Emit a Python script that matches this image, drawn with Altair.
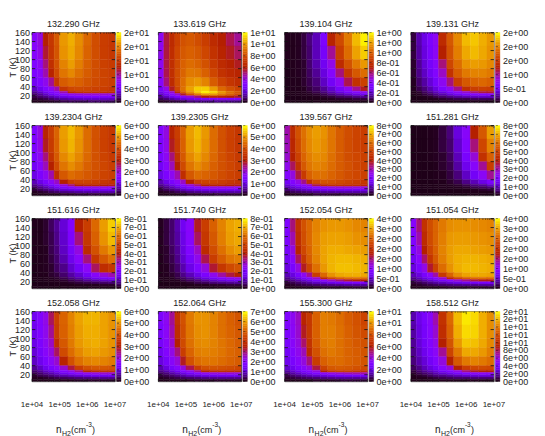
import math
import altair as alt
import pandas as pd

FONT = "Liberation Sans"
TXT = "#222222"
FS = 9

TITLES = ["132.290 GHz","133.619 GHz","139.104 GHz","139.131 GHz",
          "139.2304 GHz","139.2305 GHz","139.567 GHz","151.281 GHz",
          "151.616 GHz","151.740 GHz","152.054 GHz","151.054 GHz",
          "152.058 GHz","152.064 GHz","155.300 GHz","158.512 GHz"]
STEPS = [5,2,0.2,0.5, 1,1,1,1, 0.1,0.1,0.5,0.5, 1,1,2,2]
CB_LABELS = [
 ["0e+00","5e+00","1e+01","2e+01","2e+01","2e+01"],
 ["0e+00","2e+00","4e+00","6e+00","8e+00","1e+01","1e+01"],
 ["0e+00","2e-01","4e-01","6e-01","8e-01","1e+00","1e+00","1e+00"],
 ["0e+00","5e-01","1e+00","2e+00","2e+00","2e+00"],
 ["0e+00","1e+00","2e+00","3e+00","4e+00","5e+00","6e+00"],
 ["0e+00","1e+00","2e+00","3e+00","4e+00","5e+00","6e+00"],
 ["0e+00","1e+00","2e+00","3e+00","4e+00","5e+00","6e+00","7e+00","8e+00"],
 ["0e+00","1e+00","2e+00","3e+00","4e+00","5e+00","6e+00","7e+00","8e+00"],
 ["0e+00","1e-01","2e-01","3e-01","4e-01","5e-01","6e-01","7e-01","8e-01"],
 ["0e+00","1e-01","2e-01","3e-01","4e-01","5e-01","6e-01","7e-01","8e-01"],
 ["0e+00","5e-01","1e+00","2e+00","2e+00","2e+00","3e+00","4e+00"],
 ["0e+00","5e-01","1e+00","2e+00","2e+00","2e+00","3e+00","4e+00"],
 ["0e+00","1e+00","2e+00","3e+00","4e+00","5e+00","6e+00"],
 ["0e+00","1e+00","2e+00","3e+00","4e+00","5e+00","6e+00","7e+00"],
 ["0e+00","2e+00","4e+00","6e+00","8e+00","1e+01","1e+01"],
 ["0e+00","2e+00","4e+00","6e+00","8e+00","1e+01","1e+01","1e+01","2e+01","2e+01"],
]
# cell edges
LOGN_EDGES = [4,4.2,4.4,4.6,4.8,5,5.3,5.55,5.85,6.15,6.45,6.75,7]
T_EDGES = [160,130,100,80,60,40,30,25,20,15,10,5]

# Cell levels, percent of the colour bar; rows from T=160 down, columns from n=1e4 up
P01=[[28,33,50,60,70,84,88,82,74,67,62,60],[27,32,47,59,69,83,87,81,73,67,62,60],[25,30,42,57,68,80,85,79,72,67,63,61],[24,28,38,52,66,77,81,76,71,67,64,62],[20,25,31,40,60,71,74,72,69,66,64,62],[14,19,25,30,38,60,65,66,65,63,62,60],[10,14,19,24,29,38,53,57,58,57,56,55],[7,10,14,19,23,27,31,33,34,34,34,33],[5,7,9,12,15,18,21,23,24,24,24,24],[3,4,5,7,9,11,13,14,15,15,15,14],[1,1,2,3,4,5,6,6,7,7,7,7]]
P02=[[30,46,55,63,68,70,67,62,55,50,45,40],[30,46,56,65,70,72,70,65,58,52,48,44],[30,46,57,66,72,75,73,68,61,55,51,48],[29,45,57,67,73,78,77,72,65,58,54,52],[27,42,55,67,75,82,84,80,71,64,59,56],[22,32,48,65,76,86,93,93,85,74,68,64],[18,26,35,55,70,82,92,98,94,84,76,70],[14,20,27,35,48,68,78,84,84,78,72,66],[10,14,19,24,28,34,42,50,54,53,50,47],[6,8,11,14,17,20,23,25,27,27,26,25],[2,3,4,5,6,8,9,10,10,10,10,10]]
P03=[[1,1,2,4,8,13,24,52,66,78,90,98],[1,1,2,4,7,13,22,40,62,75,86,93],[1,1,2,3,7,12,20,32,55,68,78,84],[0,1,2,3,6,10,17,27,42,60,70,75],[0,1,1,3,5,8,14,21,30,45,58,63],[0,1,1,2,4,6,10,15,22,30,40,48],[0,0,1,2,3,5,8,12,17,22,27,30],[0,0,1,1,2,3,5,8,11,14,17,19],[0,0,0,1,1,2,3,4,6,7,9,10],[0,0,0,0,1,1,1,2,3,3,4,4],[0,0,0,0,0,0,0,1,1,1,1,1]]
P04=[[4,12,18,24,30,55,70,81,90,92,88,84],[4,11,17,23,29,50,68,79,87,90,87,83],[3,10,16,22,28,42,65,75,83,85,84,81],[3,9,14,20,26,36,58,71,78,80,80,78],[2,7,11,16,22,30,42,62,70,73,74,72],[2,5,8,12,17,24,31,41,57,62,63,62],[1,3,6,9,13,17,23,29,35,42,46,47],[1,2,4,6,9,12,16,20,23,25,26,27],[0,1,2,3,5,7,9,11,13,14,15,15],[0,0,1,1,2,3,4,5,5,6,6,6],[0,0,0,0,0,1,1,1,1,1,1,1]]
P05=[[25,33,52,62,73,85,90,84,75,68,63,60],[24,32,48,61,72,84,89,83,75,68,63,60],[23,30,42,58,70,81,86,81,74,68,64,61],[21,28,37,50,66,77,82,78,72,68,65,62],[18,24,30,38,56,70,75,73,70,67,64,62],[13,18,23,29,36,50,62,64,64,62,60,58],[9,13,17,22,27,34,42,50,52,52,50,49],[6,9,12,16,20,24,28,31,32,32,32,31],[4,6,8,10,13,16,18,20,21,21,21,21],[2,3,4,6,7,9,10,11,12,12,12,12],[0,1,1,2,2,3,3,4,4,4,4,4]]
P06=[[25,33,52,62,73,85,90,84,75,68,63,60],[24,32,48,61,72,84,89,83,75,68,63,60],[23,30,42,58,70,81,86,81,74,68,64,61],[21,28,37,50,66,77,82,78,72,68,65,62],[18,24,30,38,56,70,75,73,70,67,64,62],[13,18,23,29,36,50,62,64,64,62,60,58],[9,13,17,22,27,34,42,50,52,52,50,49],[6,9,12,16,20,24,28,31,32,32,32,31],[4,6,8,10,13,16,18,20,21,21,21,21],[2,3,4,6,7,9,10,11,12,12,12,12],[0,1,1,2,2,3,3,4,4,4,4,4]]
P07=[[38,55,68,76,82,85,83,77,71,67,64,62],[37,53,66,75,81,84,82,77,71,67,64,62],[35,50,63,73,79,82,81,76,71,67,65,63],[31,44,58,70,77,80,79,75,71,68,65,63],[26,33,46,61,72,76,76,73,70,67,65,63],[21,26,32,41,57,66,69,68,66,64,62,60],[16,20,25,29,34,46,56,58,58,57,56,54],[12,15,18,21,24,27,30,33,34,34,33,33],[8,10,12,14,16,18,20,21,21,21,21,21],[4,6,7,8,9,10,11,11,12,12,12,12],[1,2,2,3,3,4,4,4,4,4,4,4]]
P08=[[0,0,0,1,2,4,8,17,28,50,70,85],[0,0,0,1,2,4,7,15,26,42,65,80],[0,0,0,1,2,3,6,13,23,34,58,72],[0,0,0,0,1,3,5,11,19,28,40,62],[0,0,0,0,1,2,4,8,14,21,29,40],[0,0,0,0,1,1,3,5,9,13,18,24],[0,0,0,0,0,1,2,3,5,8,10,14],[0,0,0,0,0,1,1,2,3,5,6,8],[0,0,0,0,0,0,1,1,1,2,3,4],[0,0,0,0,0,0,0,0,1,1,1,1],[0,0,0,0,0,0,0,0,0,0,0,0]]
P09=[[1,1,3,6,10,16,26,50,62,74,85,93],[1,1,3,5,9,15,24,42,60,72,83,90],[1,1,2,5,8,14,22,33,55,68,78,84],[0,1,2,4,7,12,19,28,42,60,70,76],[0,1,2,3,6,9,15,21,29,44,56,60],[0,1,1,3,4,7,11,15,21,28,34,38],[0,0,1,2,3,5,8,11,15,19,22,24],[0,0,1,1,2,3,5,7,10,12,14,15],[0,0,0,1,1,2,3,4,5,6,7,8],[0,0,0,0,1,1,1,2,2,2,3,3],[0,0,0,0,0,0,0,1,1,1,1,1]]
P10=[[2,4,7,12,20,28,48,62,72,80,86,88],[2,4,7,11,18,27,44,60,70,79,85,87],[2,3,6,10,17,25,36,55,67,76,82,85],[1,3,5,9,15,22,31,45,62,71,77,79],[1,2,4,7,12,18,25,33,47,60,66,69],[1,2,3,5,9,13,18,24,31,39,46,50],[1,1,2,4,6,9,13,17,21,26,30,32],[0,1,1,2,4,6,8,11,14,17,19,20],[0,0,1,1,2,3,5,6,8,9,10,11],[0,0,0,1,1,1,2,2,3,3,4,4],[0,0,0,0,0,0,0,1,1,1,1,1]]
P11=[[25,42,58,68,74,80,83,84,84,83,81,80],[24,38,56,67,74,81,85,86,86,85,83,82],[22,33,52,65,73,81,86,88,88,87,86,85],[20,28,44,60,71,80,86,89,90,90,89,88],[17,23,33,48,64,76,84,89,91,91,90,89],[13,17,23,30,40,62,74,83,87,88,88,87],[9,13,17,22,27,36,55,66,72,75,76,75],[7,9,12,15,18,23,28,36,42,47,50,50],[4,5,7,9,11,14,16,19,21,23,24,25],[2,3,4,5,6,7,8,9,10,11,11,11],[1,1,1,2,2,2,3,3,3,3,4,4]]
P12=[[27,42,58,67,73,78,82,83,83,82,81,80],[25,38,55,66,73,79,84,85,85,84,83,82],[23,33,50,64,72,80,85,87,87,86,85,84],[20,28,43,59,70,79,85,88,89,89,88,87],[17,23,32,47,63,75,83,88,90,90,89,88],[13,17,23,29,39,61,73,82,86,87,87,86],[9,13,17,21,26,35,54,65,71,74,75,74],[7,9,12,15,18,22,27,35,41,46,49,49],[4,5,7,9,11,13,16,18,20,22,23,24],[2,3,4,5,6,7,8,9,10,10,11,11],[1,1,1,2,2,2,3,3,3,3,3,4]]
P13=[[20,26,32,44,63,73,80,86,89,89,86,83],[19,25,31,40,62,72,79,85,88,88,86,83],[18,24,30,36,56,70,78,84,87,88,86,83],[16,22,28,33,44,66,75,81,85,86,84,82],[14,19,24,29,35,52,68,76,80,81,80,78],[10,14,19,23,28,35,46,62,68,70,70,69],[7,10,14,17,21,26,32,40,52,56,58,58],[5,7,10,12,15,19,23,27,31,33,35,35],[3,5,6,8,10,12,14,16,18,20,20,21],[2,2,3,4,5,6,7,8,9,9,10,10],[0,1,1,1,2,2,2,3,3,3,3,3]]
P14=[[24,30,40,58,68,78,83,83,80,76,72,69],[23,29,38,56,67,77,82,83,80,76,73,70],[22,28,35,50,66,76,81,82,80,77,74,71],[20,26,32,42,62,73,79,80,79,77,74,72],[17,22,28,34,48,68,75,77,77,75,73,71],[12,17,22,27,33,45,62,68,69,68,67,65],[9,12,16,20,25,31,40,52,56,57,56,55],[6,8,11,14,17,21,26,30,33,34,34,34],[4,5,7,9,11,14,16,18,19,20,20,20],[2,3,4,5,6,7,8,9,10,10,10,10],[0,1,1,2,2,2,3,3,3,3,3,3]]
P15=[[25,30,36,52,60,72,79,78,75,71,68,64],[24,29,35,48,60,72,79,79,76,72,69,66],[23,28,33,43,58,71,78,79,76,73,70,68],[21,26,31,37,54,68,76,78,76,73,71,69],[19,23,28,33,42,62,72,75,75,73,71,69],[15,19,24,28,33,46,64,70,71,70,68,66],[11,15,19,23,27,33,50,60,62,62,60,58],[8,11,14,17,20,24,28,32,35,37,38,38],[5,7,9,11,13,15,17,19,21,22,22,22],[3,4,5,6,7,8,9,10,11,11,11,11],[1,1,2,2,2,3,3,3,4,4,4,4]]
P16=[[12,18,23,28,38,58,74,90,97,95,88,82],[11,17,22,27,35,56,72,88,95,94,88,82],[10,16,21,26,32,50,69,84,92,91,87,81],[9,14,19,24,29,40,64,78,87,87,84,79],[8,12,16,21,26,33,50,70,78,80,78,75],[6,9,13,17,21,27,34,50,62,65,66,65],[4,7,10,13,16,21,26,32,42,48,50,50],[3,5,7,9,12,15,18,22,25,28,29,30],[2,3,4,6,8,9,11,13,15,16,17,17],[1,2,2,3,4,5,6,7,7,8,8,8],[0,0,1,1,1,2,2,2,2,2,2,2]]
GRIDS = [P01,P02,P03,P04,P05,P06,P07,P08,P09,P10,P11,P12,P13,P14,P15,P16]

X_MAJOR = [4,5,6,7]
X_LABELS = ["1e+04","1e+05","1e+06","1e+07"]
X_MINOR = [d + math.log10(m) for d in (4,5,6) for m in range(2,10)]
Y_TICKS = [20,40,60,80,100,120,140,160]
XMIN, XMAX, YMIN, YMAX = 4, 7, 5, 160
W, H = 83, 70
CB_BANDS = 40

def palette(n=48):
    out = []
    for i in range(n + 1):
        t = i / n
        r = math.sqrt(t); g = t ** 3; b = max(0.0, math.sin(2 * math.pi * t))
        out.append("#%02x%02x%02x" % (round(r*255), round(g*255), round(b*255)))
    return out
PAL = palette()

XS = alt.Scale(domain=[XMIN, XMAX], nice=False, zero=False)
YS = alt.Scale(domain=[YMIN, YMAX], nice=False, zero=False)

def xq(f="a"): return alt.X(f + ":Q", scale=XS, axis=None)
def yq(f="b"): return alt.Y(f + ":Q", scale=YS, axis=None)

def panel(i):
    col, row = i % 4, i // 4
    step = STEPS[i]; labs = CB_LABELS[i]
    vmax = step * (len(labs) - 1)
    rows = []
    for r, line in enumerate(GRIDS[i]):
        for c, v in enumerate(line):
            rows.append(dict(a=LOGN_EDGES[c], a2=LOGN_EDGES[c+1], b=T_EDGES[r+1], b2=T_EDGES[r], v=v/100*vmax))
    cs = alt.Scale(domain=[0, vmax], range=PAL, nice=False, zero=False)
    heat = alt.Chart(pd.DataFrame(rows)).mark_rect(strokeWidth=0.4, clip=True).encode(
        x=xq(), x2="a2:Q", y=yq(), y2="b2:Q",
        color=alt.Color("v:Q", scale=cs, legend=None),
        stroke=alt.Stroke("v:Q", scale=cs, legend=None))

    # position on the colour bar expressed in the panel's y scale
    def bar_y(fr): return YMIN + fr * (YMAX - YMIN)
    bands = [dict(b=bar_y(k/CB_BANDS), b2=bar_y((k+1)/CB_BANDS), v=(k+0.5)/CB_BANDS*vmax) for k in range(CB_BANDS)]
    bar = alt.Chart(pd.DataFrame(bands)).mark_rect(strokeWidth=0.4, clip=False).encode(
        x=alt.value(W+1.5), x2=alt.value(W+6), y=yq(), y2="b2:Q",
        color=alt.Color("v:Q", scale=cs, legend=None),
        stroke=alt.Stroke("v:Q", scale=cs, legend=None))
    n = len(labs) - 1
    cb_df = pd.DataFrame([dict(b=bar_y(k/n), t=s) for k, s in enumerate(labs)])
    bar_lab = alt.Chart(cb_df).mark_text(align="left", baseline="middle", font=FONT, fontSize=FS, color=TXT, clip=False).encode(
        x=alt.value(W+9), y=yq(), text="t:N")
    bar_tick = alt.Chart(cb_df).mark_tick(orient="horizontal", color="#111111", thickness=0.6, size=2, clip=False).encode(
        x=alt.value(W+3), y=yq())
    xticks = ([dict(a=x, b=YMIN, b2=YMIN+6) for x in X_MAJOR] + [dict(a=x, b=YMAX-6, b2=YMAX) for x in X_MAJOR]
              + [dict(a=x, b=YMIN, b2=YMIN+3) for x in X_MINOR] + [dict(a=x, b=YMAX-3, b2=YMAX) for x in X_MINOR])
    yticks = [dict(b=y, a=XMIN, a2=XMIN+0.12) for y in Y_TICKS] + [dict(b=y, a=XMAX-0.12, a2=XMAX) for y in Y_TICKS]
    r1 = alt.Chart(pd.DataFrame(xticks)).mark_rule(color="#111111", strokeWidth=0.6).encode(x=xq(), y=yq(), y2="b2:Q")
    r2 = alt.Chart(pd.DataFrame(yticks)).mark_rule(color="#111111", strokeWidth=0.8).encode(y=yq(), x=xq(), x2="a2:Q")
    layers = [heat, r1, r2, bar, bar_tick, bar_lab]
    if col == 0:
        ydf = pd.DataFrame({"b": Y_TICKS})
        layers.append(alt.Chart(ydf).mark_text(align="right", baseline="middle", font=FONT, fontSize=FS, color=TXT, clip=False).encode(
            x=alt.value(-2), y=yq(), text="b:Q"))
        layers.append(alt.Chart(pd.DataFrame({"k":[0]})).mark_text(text="T  (K)", angle=270, align="center", baseline="middle",
            font=FONT, fontSize=FS, color=TXT, clip=False).encode(x=alt.value(-19), y=alt.value(H/2)))
    if row == 3:
        xdf = pd.DataFrame({"a": X_MAJOR, "t": X_LABELS})
        layers.append(alt.Chart(xdf).mark_text(align="center", baseline="middle", font=FONT, fontSize=8, color=TXT, clip=False).encode(
            x=xq(), y=alt.value(H+23), text="t:N"))
        parts = [("n",24,118,FS+1),("H2",30,122,7),("(cm",39,118,FS),("-3",54,113,6.5),(")",60,118,FS)]
        for s, px, py, fs in parts:
            layers.append(alt.Chart(pd.DataFrame({"k":[0]})).mark_text(
                text=s, align="left", baseline="middle", font=FONT, fontSize=fs, color=TXT, clip=False
            ).encode(x=alt.value(px), y=alt.value(py)))
    return alt.layer(*layers).properties(
        width=W, height=H,
        title=alt.TitleParams(TITLES[i], font=FONT, fontSize=FS, fontWeight="normal", color=TXT, offset=0, anchor="middle"))

chart = alt.concat(*[panel(i) for i in range(16)], columns=4,
                   spacing={"row": 23, "column": 43.3}, bounds="flush"
).resolve_scale(color="independent", stroke="independent").configure_view(stroke="#111111", strokeWidth=0.7
).properties(padding={"left":0,"top":10.5,"right":0,"bottom":0})

chart.save("out.html", embed_options={"renderer": "svg", "actions": False})
